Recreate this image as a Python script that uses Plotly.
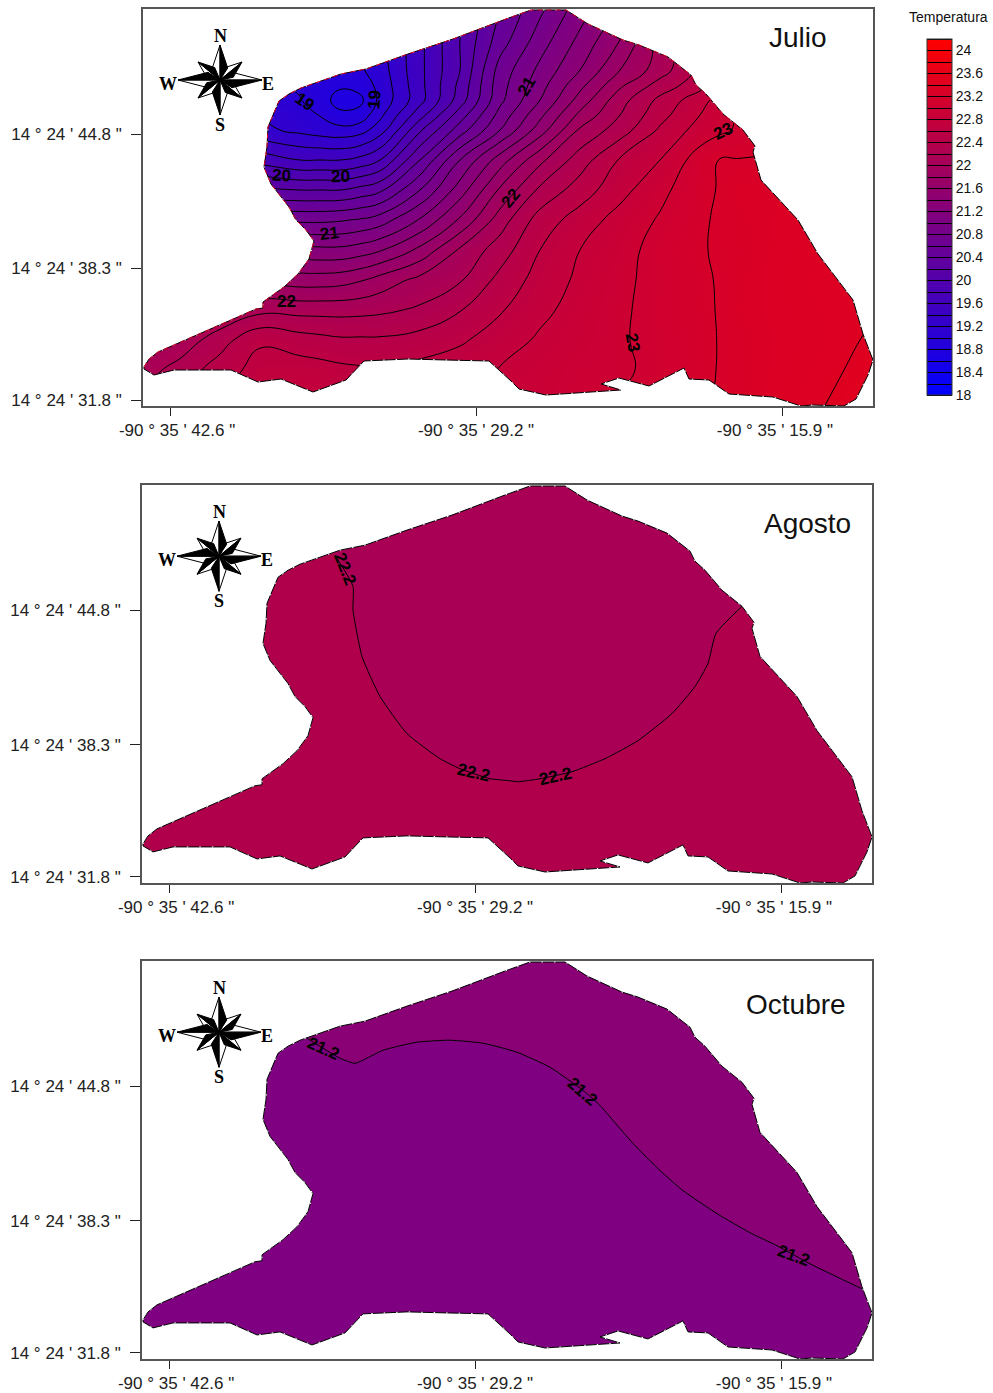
import plotly.graph_objects as go

# ---- data (map units of the digitised sheet) ----
lon_ticks = [170, 476, 782]
lon_labels = ['\u00a0\u00a0\u00a0-90 ° 35 \' 42.6 "', '-90 ° 35 \' 29.2 "', '-90 ° 35 \' 15.9 "\u00a0\u00a0\u00a0']
lat_ticks = [134, 268, 400]
lat_labels = ['14 ° 24 \' 44.8 "', '14 ° 24 \' 38.3 "', '14 ° 24 \' 31.8 "']

outline_x = [144,149,158,208,238,256,263,263,284,298,309,314,306,296,289,279,271,264,267,268,274,279,289,301,341,366,408,453,506,
             531,566,588,623,639,668,691,696,706,723,743,755,753,761,798,818,853,863,873,868,856,844,813,801,773,729,709,689,684,649,
             619,601,621,546,519,511,489,446,408,364,346,313,281,258,231,174,154,144,144]
outline_y = [367,359,352,330,317,309,308,302,287,274,259,241,230,220,207,194,184,167,147,127,112,101,94,88,74,69,54,39,19,
             10,10,24,40,45,57,75,85,94,114,130,146,152,180,220,254,300,334,360,375,399,406,405,406,397,394,380,379,368,386,
             378,384,390,395,389,381,361,360,359,361,380,392,379,382,370,370,375,369,367]

julio_lon = [140,180,220,260,300,320,340,360,380,420,460,500,540,580,620,660,700,720,740,780,820,860,880]
julio_lat = [8,40,70,85,100,115,130,160,190,220,250,280,310,340,370,408]
julio_temp = [
 [19.6,19.5,19.4,19.3,19.2,19.15,19.1,19.15,19.25,19.55,19.95,20.4,20.75,21.1,21.42,21.85,22.2,22.35,22.5,22.75,22.9,23.0,23.0],
 [19.5,19.4,19.3,19.2,19.1,19.05,19.0,19.05,19.15,19.55,20.0,20.5,20.9,21.25,21.6,22.05,22.4,22.55,22.7,22.9,23.0,23.1,23.1],
 [19.4,19.3,19.2,19.1,19.0,18.97,18.93,18.97,19.1,19.55,20.0,20.68,21.05,21.4,21.8,22.1,22.45,22.65,22.85,23.0,23.05,23.1,23.1],
 [19.4,19.3,19.2,19.1,18.97,18.9,18.83,18.88,19.06,19.54,20.05,20.72,21.12,21.54,21.96,22.28,22.52,22.73,22.95,23.05,23.1,23.12,23.12],
 [19.45,19.35,19.3,19.15,19.01,18.88,18.73,18.75,19.05,19.53,20.1,20.75,21.2,21.68,22.12,22.45,22.72,22.88,23.02,23.08,23.12,23.15,23.15],
 [19.5,19.4,19.35,19.2,19.1,18.99,18.84,18.87,19.15,19.72,20.3,20.87,21.35,21.85,22.2,22.53,22.8,22.93,23.03,23.1,23.14,23.17,23.17],
 [19.6,19.5,19.4,19.25,19.15,19.1,19.07,19.12,19.3,19.97,20.5,21.0,21.5,22.03,22.3,22.63,22.88,22.96,23.03,23.15,23.18,23.2,23.2],
 [19.9,19.85,19.8,19.72,19.6,19.6,19.6,19.66,19.8,20.4,21.0,21.5,21.95,22.3,22.62,22.8,23.1,23.21,23.21,23.22,23.28,23.3,23.3],
 [20.5,20.45,20.35,20.25,20.2,20.2,20.2,20.27,20.36,20.8,21.3,21.83,22.24,22.5,22.73,22.95,23.13,23.22,23.3,23.31,23.32,23.33,23.33],
 [21.0,20.95,20.9,20.77,20.76,20.76,20.78,20.82,20.9,21.22,21.63,22.1,22.49,22.69,22.88,23.02,23.15,23.25,23.28,23.32,23.33,23.34,23.34],
 [21.5,21.45,21.4,21.3,21.27,21.25,21.25,21.3,21.38,21.65,22.03,22.3,22.6,22.8,22.93,23.07,23.18,23.23,23.27,23.33,23.35,23.36,23.36],
 [21.7,21.75,21.75,21.75,21.7,21.7,21.72,21.78,21.88,22.06,22.18,22.46,22.68,22.84,22.96,23.06,23.16,23.22,23.28,23.34,23.37,23.38,23.38],
 [21.85,21.9,22.0,22.14,22.13,22.13,22.13,22.14,22.16,22.23,22.39,22.58,22.75,22.88,22.97,23.07,23.17,23.21,23.29,23.33,23.36,23.39,23.4],
 [21.95,22.07,22.31,22.57,22.49,22.46,22.43,22.43,22.43,22.48,22.57,22.7,22.83,22.9,22.98,23.06,23.15,23.21,23.27,23.32,23.35,23.4,23.45],
 [22.1,22.28,22.5,22.68,22.7,22.68,22.65,22.63,22.62,22.67,22.72,22.81,22.88,22.95,22.97,23.05,23.16,23.21,23.27,23.33,23.37,23.42,23.5],
 [22.25,22.42,22.62,22.75,22.8,22.78,22.75,22.73,22.72,22.72,22.78,22.85,22.92,22.98,23.03,23.1,23.17,23.22,23.28,23.34,23.39,23.5,23.6],
]
temp_min, temp_max, temp_step = 18, 24.2, 0.2
legend_vals = [18,18.4,18.8,19.2,19.6,20,20.4,20.8,21.2,21.6,22,22.4,22.8,23.2,23.6,24]

julio_labels = [("19",304,102,35),("19",375,100,-85),("20",281,176,3),("20",340,177,-2),("21",329,234,-6),
                ("22",286,301,0),("21",527,87,-60),("22",511,199,-50),("23",723,132,-25),("23",633,342,80)]

agosto_iso_x = [336,354,354,363,381,408,441,461,491,511,519,541,573,606,639,673,696,709,717,743]
agosto_iso_y = [79,110,134,180,220,257,282,292,302,304,305,302,295,282,264,237,210,187,157,130]
agosto_labels = [("22.2",346,92,68),("22.2",474,296,13),("22.2",556,300,-12)]

octubre_iso_x = [308,341,356,384,418,451,484,518,551,584,601,614,634,661,684,718,751,778,811,863]
octubre_iso_y = [86,106,111,98,90,88,91,100,115,138,153,168,191,218,238,261,280,293,311,336]
octubre_labels = [("21.2",324,96,24),("21.2",583,139,41),("21.2",794,303,20)]

titles = ["Julio", "Agosto", "Octubre"]
title_xy = [(798,38),(807,523),(796,1004)]
agosto_colors = ("#B0004C", "#A90056")
octubre_colors = ("#7F0080", "#8A0075")

# ---- page layout ----
W, H = 993, 1393
frames = [(143,873,9,406),(142,872,485,883),(142,872,961,1359)]
FONT = "Liberation Sans"

fig = go.Figure()
layout = dict(width=W, height=H, margin=dict(l=0,r=0,t=0,b=0,autoexpand=False), paper_bgcolor="white", plot_bgcolor="white",
              showlegend=False, font=dict(family=FONT, color="#111"))
for i,(x0,x1,y0,y1) in enumerate(frames):
    n = "" if i==0 else str(i+1)
    layout["xaxis"+n] = dict(domain=[x0/W,x1/W], range=[143,873], tickvals=lon_ticks, ticktext=lon_labels,
                             ticks="outside", ticklen=8, tickcolor="#222", tickfont=dict(size=17,family=FONT,color="#222"),
                             showgrid=False, zeroline=False, showline=True, mirror=True, linecolor="#555", linewidth=1.5,
                             ticklabelstandoff=0, anchor="y"+n, layer="above traces", automargin=False)
    layout["yaxis"+n] = dict(domain=[1-y1/H,1-y0/H], range=[406,9], tickvals=lat_ticks, ticktext=lat_labels,
                             ticks="outside", ticklen=10, tickcolor="#222", tickfont=dict(size=17,family=FONT,color="#222"),
                             showgrid=False, zeroline=False, showline=True, mirror=True, linecolor="#555", linewidth=1.5,
                             ticklabelstandoff=6, anchor="x"+n, layer="above traces", automargin=False)
fig.update_layout(**layout)

def add_mask_and_edge(xa, ya, red=False):
    # white sheet with the lake cut out: frame runs the other way round from the outline
    fx = [100,100,900,900,100] + outline_x + [100]
    fy = [-10,430,430,-10,-10] + outline_y + [-10]
    fig.add_trace(go.Scatter(x=fx,y=fy,xaxis=xa,yaxis=ya,mode="none",fill="toself",fillcolor="white",hoverinfo="skip"))
    fig.add_trace(go.Scatter(x=outline_x,y=outline_y,xaxis=xa,yaxis=ya,mode="lines",
                             line=dict(color="black",width=1),hoverinfo="skip"))
    fig.add_trace(go.Scatter(x=outline_x,y=outline_y,xaxis=xa,yaxis=ya,mode="lines",
                             line=dict(color="white",width=1,dash="1.5px,11px"),hoverinfo="skip"))
    if red:
        fig.add_trace(go.Scatter(x=outline_x[:40],y=outline_y[:40],xaxis=xa,yaxis=ya,mode="lines",
                                 line=dict(color="#e0002a",width=1,dash="5px,4px"),hoverinfo="skip"))

def add_rose(xa, ya):
    cx, cy = 220, 80
    arms = [(0,-35),(42,0),(0,35),(-42,0)]
    diag = [(22,-18),(22,18),(-22,18),(-22,-18)]
    bx, by, wx, wy = [], [], [], []
    for tips, waist in ((diag,9),(arms,11)):
        for (tx,ty) in tips:
            # normal to the arm, clockwise side black, other side white
            L = (tx*tx+ty*ty)**.5
            ux,uy = tx/L, ty/L
            nx,ny = -uy, ux
            sx,sy = ux*12, uy*12
            bx += [cx, cx+tx, cx+sx+nx*waist*0.7, cx, None]
            by += [cy, cy+ty, cy+sy+ny*waist*0.7, cy, None]
            wx += [cx, cx+tx, cx+sx-nx*waist*0.7, cx, None]
            wy += [cy, cy+ty, cy+sy-ny*waist*0.7, cy, None]
    fig.add_trace(go.Scatter(x=wx,y=wy,xaxis=xa,yaxis=ya,mode="lines",fill="toself",fillcolor="white",
                             line=dict(color="black",width=1),hoverinfo="skip"))
    fig.add_trace(go.Scatter(x=bx,y=by,xaxis=xa,yaxis=ya,mode="lines",fill="toself",fillcolor="black",
                             line=dict(color="black",width=1),hoverinfo="skip"))
    for t,x,y in (("N",220,36),("S",220,125),("W",168,84),("E",268,84)):
        fig.add_annotation(text="<b>%s</b>"%t,x=x,y=y,xref=xa,yref=ya,showarrow=False,
                           font=dict(family="Liberation Serif",size=18,color="black"))

def add_labels(labels, xa, ya):
    for t,x,y,a in labels:
        fig.add_annotation(text="<b>%s</b>"%t,x=x,y=y,xref=xa,yref=ya,showarrow=False,textangle=a,
                           font=dict(family=FONT,size=17,color="black"))

# ---- Julio ----
fig.add_trace(go.Contour(x=julio_lon,y=julio_lat,z=julio_temp,xaxis="x",yaxis="y",zmin=temp_min,zmax=temp_max,
    colorscale=[[0,"#0000ff"],[1,"#ff0000"]],
    contours=dict(start=temp_min,end=temp_max,size=temp_step,coloring="heatmap",showlabels=False),
    line=dict(color="black",width=1,smoothing=1.3),hoverinfo="skip",
    colorbar=dict(x=927/W,xanchor="left",y=1-39/H,yanchor="top",len=356,lenmode="pixels",thickness=25,
                  thicknessmode="pixels",xpad=0,ypad=0,outlinecolor="#333",outlinewidth=1,ticks="",
                  tickvals=legend_vals,ticktext=[str(v) for v in legend_vals],
                  tickfont=dict(size=14,family=FONT,color="#111"))))
add_mask_and_edge("x","y",red=True)
add_rose("x","y")
add_labels(julio_labels,"x","y")

# ---- Agosto ----
fig.add_trace(go.Scatter(x=outline_x,y=outline_y,xaxis="x2",yaxis="y2",mode="none",fill="toself",
                         fillcolor=agosto_colors[0],hoverinfo="skip"))
fig.add_trace(go.Scatter(x=agosto_iso_x+[800,800,330,330],y=agosto_iso_y+[100,0,0,70],xaxis="x2",yaxis="y2",mode="none",
                         fill="toself",fillcolor=agosto_colors[1],hoverinfo="skip"))
fig.add_trace(go.Scatter(x=agosto_iso_x,y=agosto_iso_y,xaxis="x2",yaxis="y2",mode="lines",
                         line=dict(color="black",width=1,shape="spline",smoothing=0.5),hoverinfo="skip"))
add_mask_and_edge("x2","y2")
add_rose("x2","y2")
add_labels(agosto_labels,"x2","y2")

# ---- Octubre ----
fig.add_trace(go.Scatter(x=outline_x,y=outline_y,xaxis="x3",yaxis="y3",mode="none",fill="toself",
                         fillcolor=octubre_colors[0],hoverinfo="skip"))
fig.add_trace(go.Scatter(x=octubre_iso_x+[900,900,300,300],y=octubre_iso_y+[330,0,0,80],xaxis="x3",yaxis="y3",mode="none",
                         fill="toself",fillcolor=octubre_colors[1],hoverinfo="skip"))
fig.add_trace(go.Scatter(x=octubre_iso_x,y=octubre_iso_y,xaxis="x3",yaxis="y3",mode="lines",
                         line=dict(color="black",width=1,shape="spline",smoothing=0.5),hoverinfo="skip"))
add_mask_and_edge("x3","y3")
add_rose("x3","y3")
add_labels(octubre_labels,"x3","y3")

# ---- page texts ----
for t,(x,y) in zip(titles,title_xy):
    fig.add_annotation(text=t,x=x/W,y=1-y/H,xref="paper",yref="paper",showarrow=False,xanchor="center",yanchor="middle",
                       font=dict(family=FONT,size=28,color="#111"))
fig.add_annotation(text="Temperatura",x=948/W,y=1-17/H,xref="paper",yref="paper",showarrow=False,xanchor="center",yanchor="middle",
                   font=dict(family=FONT,size=14,color="#111"))

fig.write_html("out.html", config={"displayModeBar": False},
               post_script="document.body.style.margin='0';document.body.style.overflow='hidden';")
